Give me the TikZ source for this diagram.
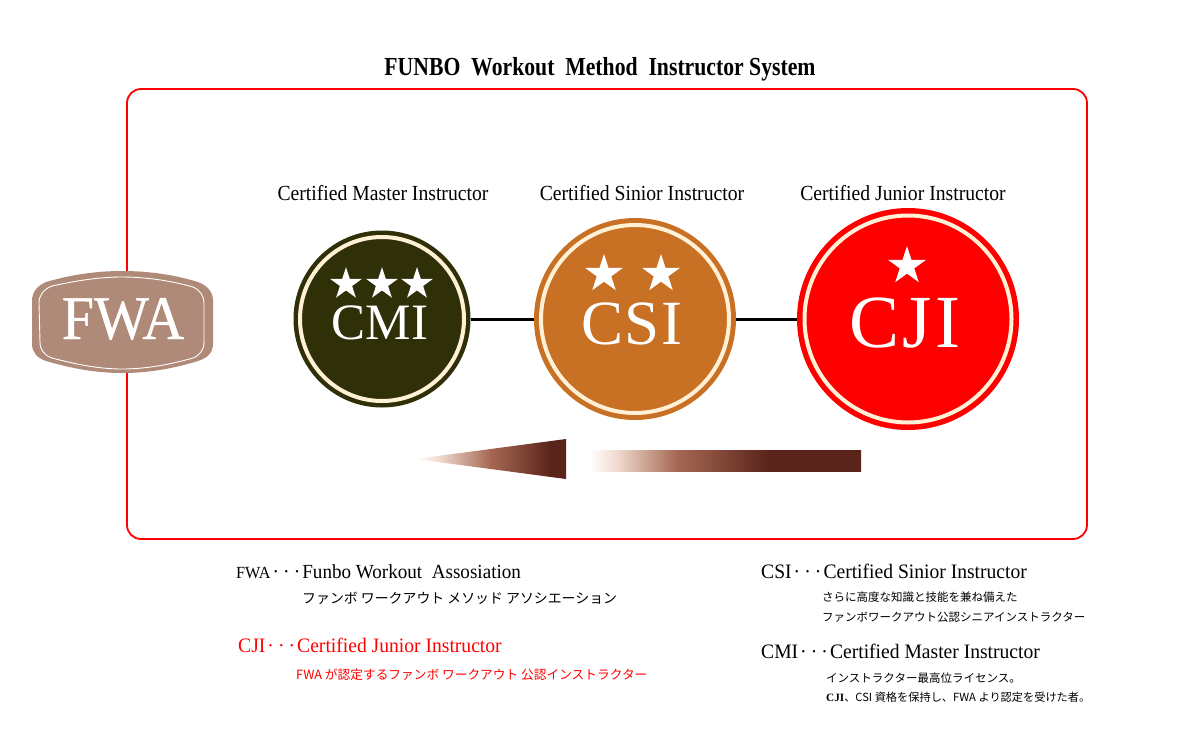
\documentclass[tikz,border=0pt]{standalone}
\usepackage{fontspec}
\setmainfont{Liberation Serif}
\newfontfamily\jpfont{Noto Sans CJK JP}
\newfontfamily\narrowfont[FakeStretch=0.955]{Liberation Serif}
\newfontfamily\capfont[FakeStretch=0.915]{Liberation Serif}
\newfontfamily\titlefont[FakeStretch=0.835, BoldFont={Liberation Serif Bold}]{Liberation Serif}
\newfontfamily\badgefont[FakeStretch=0.935, FakeBold=0.6]{Liberation Serif}
\usetikzlibrary{positioning, shapes.geometric}
\definecolor{FrameRed}{RGB}{255, 0, 0}
\definecolor{DarkOlive}{RGB}{47, 48, 8}
\definecolor{Copper}{RGB}{200, 112, 35}
\definecolor{Cream}{RGB}{255, 240, 214}
\definecolor{BadgeBrown}{RGB}{176, 138, 120}
\definecolor{DeepBrown}{RGB}{90, 36, 26}
\definecolor{MidBrown}{RGB}{166, 104, 84}
\definecolor{PaleBrown}{RGB}{240, 218, 206}
\pgfdeclarehorizontalshading{barfade}{100bp}{%
  color(0bp)=(white); color(25bp)=(white); color(30bp)=(PaleBrown); color(41bp)=(MidBrown);
  color(58bp)=(DeepBrown); color(100bp)=(DeepBrown)}
\pgfdeclarehorizontalshading{tipfade}{100bp}{%
  color(0bp)=(white); color(25bp)=(white); color(33bp)=(PaleBrown); color(50bp)=(MidBrown);
  color(70bp)=(DeepBrown); color(100bp)=(DeepBrown)}
\newcommand{\tridots}{\hspace{0.1em}·\hspace{0.2em}·\hspace{0.2em}·\hspace{0.1em}}
\tikzset{%
  frame/.style={%
    rectangle,%
    draw=FrameRed,%
    line width=1.8pt,%
    rounded corners=14pt,%
    minimum width=960pt,%
    minimum height=450pt,%
  },
  disc/.style={%
    circle,%
    inner sep=0pt,%
    fill=#1,%
  },
  ring/.style={%
    circle,%
    inner sep=0pt,%
    draw=Cream,%
    line width=4pt,%
  },
  star5/.style={%
    star,%
    star points=5,%
    star point ratio=2.618,%
    fill=white,%
    inner sep=0pt,%
    minimum size=#1,%
  },
  disctext/.style={%
    text=white,%
    inner sep=0pt,%
  },
  signal/.style={%
    color=black,%
    line width=3pt,%
  },
  caption/.style={%
    font={\capfont\fontsize{21.5}{22}\selectfont},%
    inner sep=0pt,%
    anchor=base,%
  },
  term/.style={%
    font={\narrowfont\fontsize{20.5}{21}\selectfont},%
    inner sep=0pt,%
    anchor=base west,%
  },
  note/.style={%
    font={\jpfont\fontsize{#1}{14}\selectfont},%
    inner sep=0pt,%
    anchor=base west,%
  },
  note/.default=11.5,
}
\begin{document}
\begin{tikzpicture}[x=1pt, y=-1pt]
  \useasboundingbox (0,0) rectangle (1185,731);

  \node[font={\titlefont\bfseries\fontsize{26}{27}\selectfont}, inner sep=0pt, anchor=base] (title) at (600,75) {FUNBO\ \ Workout\ \ Method\ \ Instructor System};
  \node[frame] (box) at (607,314) {};

  % badge on the left edge of the box
  \fill[BadgeBrown] (46,282) .. controls (70,275) and (95,271) .. (122,271) .. controls (150,271) and (175,275) .. (198,282) .. controls (208,286) and (213,292) .. (213,301) -- (213,344) .. controls (213,352) and (208,358) .. (198,361) .. controls (175,368) and (150,373) .. (122,373) .. controls (95,373) and (70,368) .. (46,361) .. controls (37,358) and (32,352) .. (32,344) -- (32,301) .. controls (32,292) and (37,286) .. (46,282) -- cycle;
  \draw[white, line width=0.9pt] (52,286) .. controls (75,281) and (98,277) .. (122,277) .. controls (147,277) and (172,281) .. (193,287) .. controls (200,290) and (204,296) .. (204,303) -- (204,342) .. controls (204,350) and (200,355) .. (193,358) .. controls (172,364) and (147,369) .. (122,369) .. controls (98,369) and (75,364) .. (52,358) .. controls (44,355) and (40,350) .. (40,342) -- (39,303) .. controls (39,295) and (44,289) .. (52,286) -- cycle;
  \node[disctext, font={\badgefont\fontsize{62}{64}\selectfont}] (FWA) at (123,319) {FWA};

  \node[disc=DarkOlive, minimum size=177pt] (CMI) at (382,319) {};
  \node[disc=Copper, minimum size=202pt] (CSI) at (635,319) {};
  \node[disc=FrameRed, minimum size=222pt] (CJI) at (908,319) {};
  \node[ring, minimum size=164pt] (CMIring) at (CMI) {};
  \node[ring, minimum size=188pt] (CSIring) at (CSI) {};
  \node[ring, minimum size=207pt] (CJIring) at (CJI) {};

  \draw[signal] (CMI) -- (CSI);
  \draw[signal] (CSI) -- (CJI);

  \node[disctext, font={\fontsize{51}{52}\selectfont}] (CMItext) at (380,323) {CMI};
  \node[disctext, font={\addfontfeature{LetterSpace=2}\fontsize{63}{65}\selectfont}] (CSItext) at (632,324) {CSI};
  \node[disctext, font={\addfontfeature{LetterSpace=4}\fontsize{75}{77}\selectfont}] (CJItext) at (905,323) {CJI};

  \node[star5=33.6pt] (CMIstar1) at (346,284) {};
  \node[star5=33.6pt] (CMIstar2) at (382,284) {};
  \node[star5=33.6pt] (CMIstar3) at (417,284) {};
  \node[star5=40pt] (CSIstar1) at (604,274) {};
  \node[star5=40pt] (CSIstar2) at (661,274) {};
  \node[star5=40pt] (CJIstar) at (907,266) {};

  \node[caption] (CMIname) at (383,200) {Certified Master Instructor};
  \node[caption] (CSIname) at (642,200) {Certified Sinior Instructor};
  \node[caption] (CJIname) at (903,200) {Certified Junior Instructor};

  % rank arrows
  \shade[shading=tipfade] (415,459) -- (566,439) -- (566,479) -- cycle;
  \shade[shading=barfade] (590,450) rectangle (861,471);

  \node[term] (FWAterm) at (236,578) {{\fontsize{17}{18}\selectfont FWA}\tridots{\fontsize{20}{21}\selectfont Funbo Workout\ \ Assosiation}};
  \node[note=13.9] (FWAnote) at (302,603) {ファンボ ワークアウト メソッド アソシエーション};
  \node[term, text=FrameRed] (CJIterm) at (238,652) {CJI\tridots Certified Junior Instructor};
  \node[note=12.7, text=FrameRed] (CJInote) at (296,679) {FWA が認定するファンボ ワークアウト 公認インストラクター};
  \node[term] (CSIterm) at (761,578) {CSI\tridots Certified Sinior Instructor};
  \node[note] (CSInote1) at (822,601) {さらに高度な知識と技能を兼ね備えた};
  \node[note] (CSInote2) at (822,621) {ファンボワークアウト公認シニアインストラクター};
  \node[term] (CMIterm) at (761,658) {CMI\tridots Certified Master Instructor};
  \node[note] (CMInote1) at (826,682) {インストラクター最高位ライセンス。};
  \node[note=11.2] (CMInote2) at (826,701) {{\rmfamily\bfseries CJI}、CSI 資格を保持し、FWA より認定を受けた者。};
\end{tikzpicture}
\end{document}
